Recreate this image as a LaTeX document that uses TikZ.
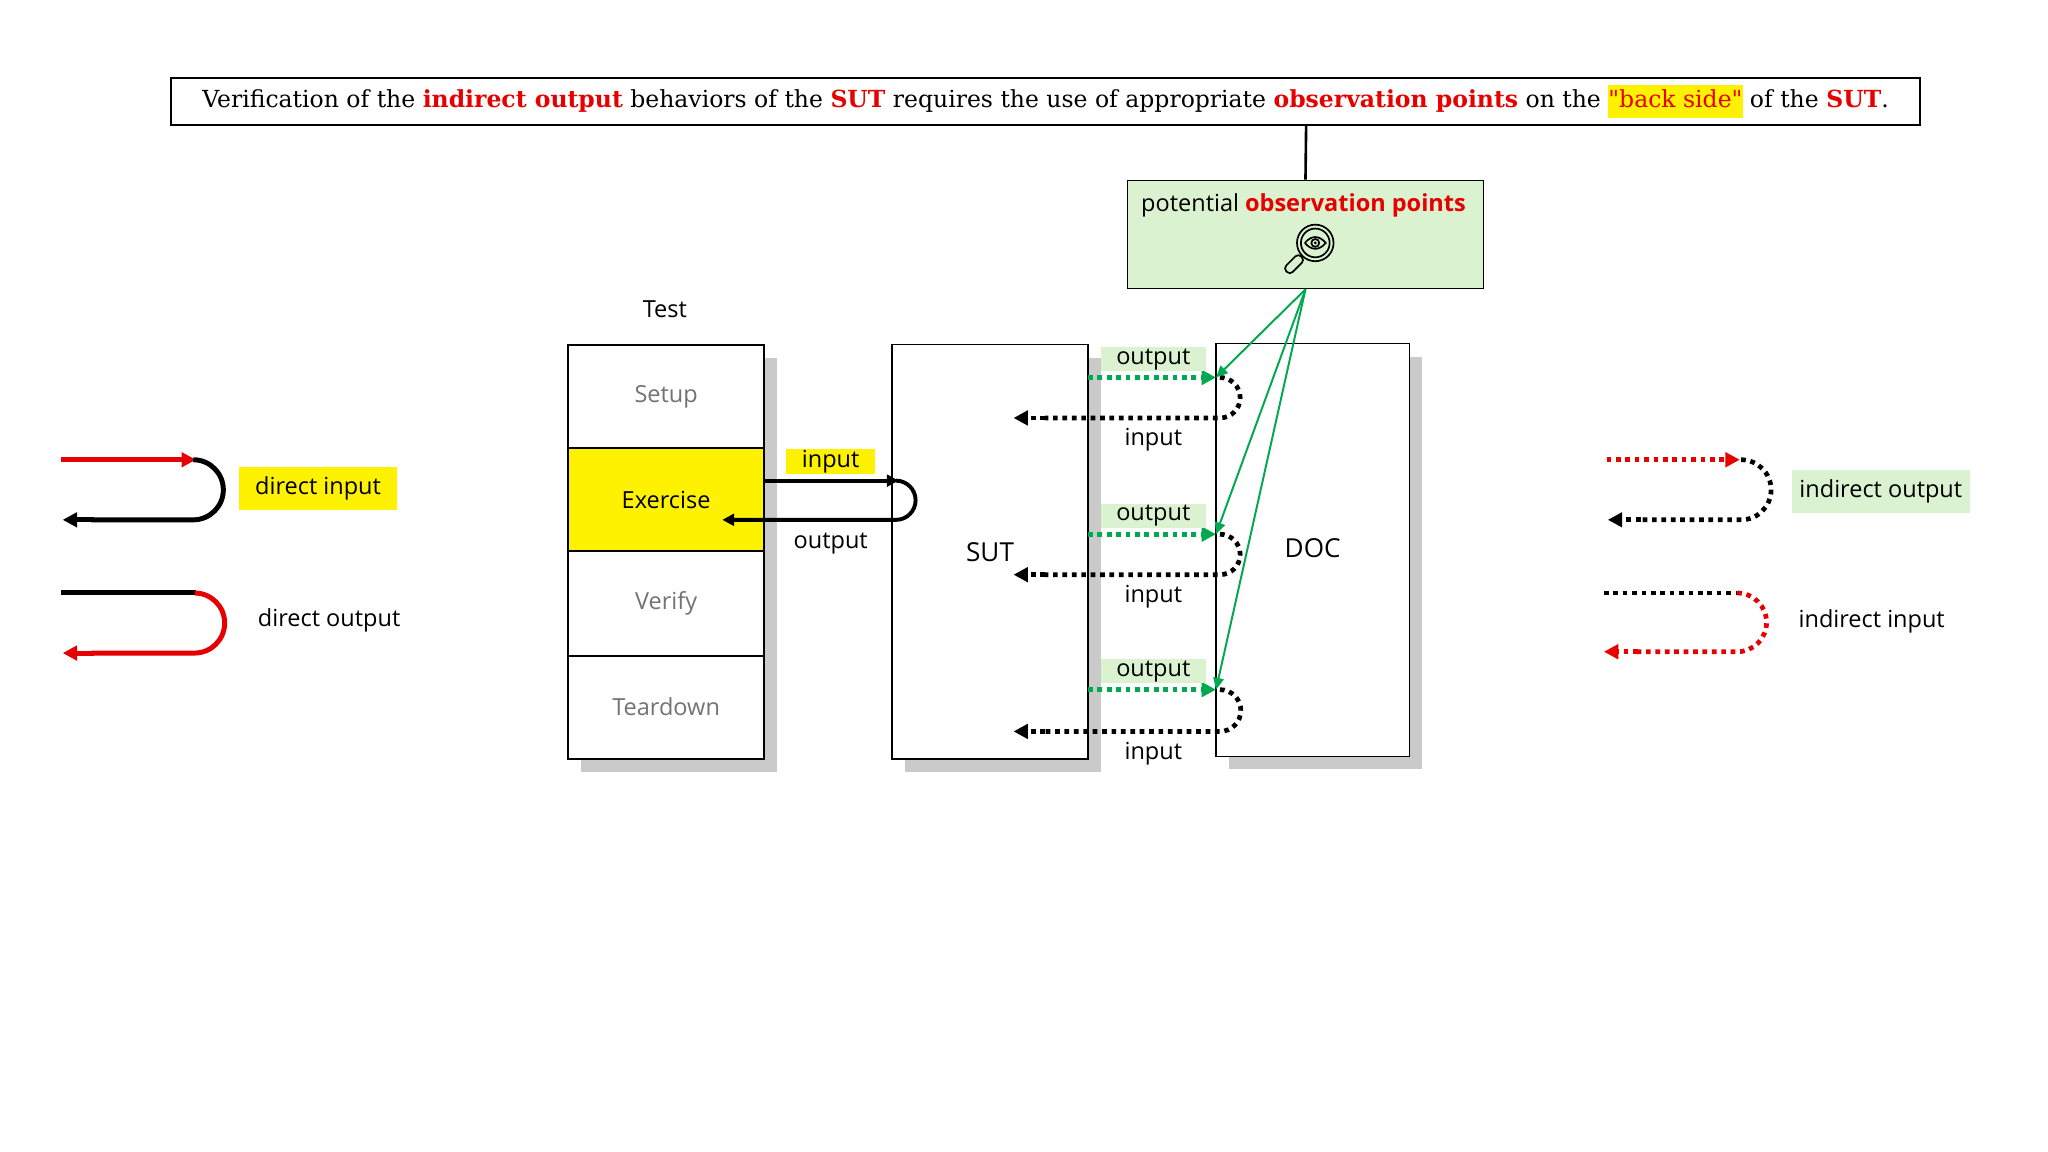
\documentclass[tikz,border=0pt]{standalone}
\usepackage{fontspec}
\setmainfont{Open Sans}
\newfontfamily\titlefont{DejaVu Serif}
\usetikzlibrary{arrows.meta,shadows}
\definecolor{myred}{RGB}{230,0,0}
\definecolor{mygreen}{RGB}{0,168,80}
\definecolor{lgreen}{RGB}{218,242,208}
\begin{document}
\begin{tikzpicture}[x=1pt,y=-1pt,
  box/.style={draw=black,line width=1pt,fill=white,drop shadow={shadow xshift=10pt,shadow yshift=-10pt,opacity=0.35,fill=black!60}},
  lbl/.style={font=\fontsize{18}{21}\selectfont,inner sep=2pt},
  gray/.style={lbl,text=black!55},
  thk/.style={line width=3.8pt},
  dot/.style={line width=3.6pt,dash pattern=on 3.6pt off 3.6pt},
  arr/.style={-{Triangle[length=11pt,width=11pt]}},
  garr/.style={mygreen,line width=1.5pt,-{Triangle[length=9pt,width=8pt]}},
  hl/.style={fill=yellow}]
\useasboundingbox (0,0) rectangle (1568,882);
% title
\node[draw,line width=1.6pt,minimum width=1339pt,minimum height=36pt,inner sep=0pt,font=\titlefont\fontsize{18}{19}\selectfont] (title) at (800.5,78)
 {Verification of the \textbf{\textcolor{myred}{indirect output}} behaviors of the \textbf{\textcolor{myred}{SUT}} requires the use of appropriate \textbf{\textcolor{myred}{observation points}} on the \colorbox{yellow}{\strut\kern-3pt\textcolor{myred}{"back side"}\kern-3pt} of the \textbf{\textcolor{myred}{SUT}}.};
% observation box
\node[draw,fill=lgreen,line width=1pt,minimum width=273pt,minimum height=83pt] (obs) at (999.5,179.5) {};
\draw[line width=2pt] (1000,96) -- (obs.north);
\node[lbl] (obst) at (998,157) {potential \textbf{\textcolor{myred}{observation points}}};
% icon
\begin{scope}[shift={(1007,186)},line width=1.3pt]
 \draw circle (14); \draw circle (11);
 \draw (-8,0) .. controls (-3,-6) and (3,-6) .. (8,0) .. controls (3,6) and (-3,6) .. (-8,0);
 \draw circle (3); \fill circle (1.2);
 \draw[rotate=-45,rounded corners=3pt] (-3.5,15) rectangle (3.5,31);
\end{scope}
% test stack
\node[lbl] (testl) at (509,237) {Test};
\node[box,minimum width=150pt,minimum height=317pt] (test) at (510,422.5) {};
\fill[yellow] (436,343) rectangle (584,422);
\draw[line width=1.3pt] (435,343) -- (585,343) (435,422) -- (585,422) (435,502) -- (585,502);
\draw[line width=1.8pt] (435,264) rectangle (585,581);
\node[gray] (setup) at (510,304) {Setup};
\node[lbl] (ex) at (510,383) {Exercise};
\node[gray] (ver) at (510,462) {Verify};
\node[gray] (td) at (510,541) {Teardown};
% SUT, DOC
\node[box,minimum width=150pt,minimum height=317pt] (sut) at (758,422.5) {};
\node[lbl,font=\fontsize{20}{23}\selectfont] (sutl) at (758,423) {SUT};
\node[box,minimum width=148pt,minimum height=316pt] (doc) at (1005,421) {};
\node[lbl,font=\fontsize{20}{23}\selectfont] (docl) at (1005,420) {DOC};
% direct input/output of exercise
\node[lbl,hl,minimum width=68pt,inner sep=1pt] (inl) at (636,353.5) {input};
\node[lbl] (outl) at (636,416) {output};
\coordinate (a1) at (585,368); \coordinate (a2) at (553,398);
\draw[line width=3pt,-{Triangle[length=9pt,width=9pt]}] (a1) -- (688,368);
\draw[line width=3pt,-{Triangle[length=9pt,width=9pt]}] (686,368) arc (-90:90:15) -- (a2);
% loops
\foreach \u/\d/\i in {289/320/1,409/440/2,528/560/3}{
  \coordinate (s\i) at (833,\u); \coordinate (e\i) at (931,\u); \coordinate (b\i) at (776,\d);
  \draw[dot,mygreen,arr] (s\i) -- (e\i);
  \draw[dot] (934,\u) arc (-90:90:{(\d-\u)/2}) -- (800,\d);
  \draw[dot,arr] (800,\d) -- (b\i);
  \node[lbl,fill=lgreen,minimum width=80pt,inner sep=1pt] (o\i) at (883,{\u-14}) {output};
  \node[lbl] (n\i) at (883,{\d+17}) {input};
  \draw[garr] (obs.south) -- (e\i);
}
% legend left
\draw[thk,myred,arr] (47,352) -- (150,352);
\draw[thk] (148,352) arc (-90:90:23) -- (70,398);
\draw[thk,arr] (72,398) -- (48,398);
\node[lbl,hl,minimum width=121pt,minimum height=33pt] (di) at (243.5,374) {direct input};
\draw[thk] (47,454) -- (150,454);
\draw[thk,myred] (149,454) arc (-90:90:23) -- (70,500);
\draw[thk,myred,arr] (72,500) -- (48,500);
\node[lbl] (do) at (252,475) {direct output};
% legend right
\draw[dot,myred,arr] (1230,352) -- (1332,352);
\draw[dot] (1333,352) arc (-90:90:23) -- (1255,398);
\draw[dot,arr] (1256,398) -- (1231,398);
\node[lbl,fill=lgreen,minimum width=136pt,minimum height=33pt] (io) at (1440,376) {indirect output};
\draw[dot] (1228,454) -- (1330,454);
\draw[dot,myred] (1330,454) arc (-90:90:22.5) -- (1253,499);
\draw[dot,myred,arr] (1254,499) -- (1228,499);
\node[lbl] (ii) at (1433,476) {indirect input};
\end{tikzpicture}
\end{document}
